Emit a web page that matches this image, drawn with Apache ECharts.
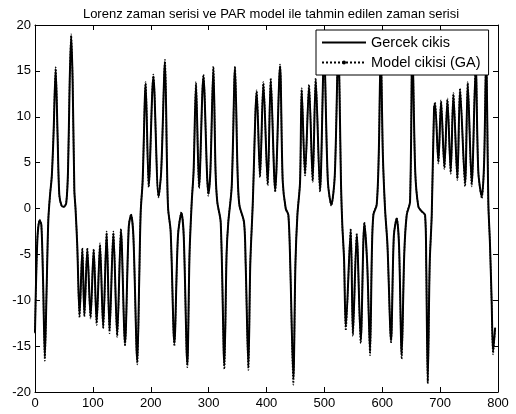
<!DOCTYPE html>
<html>
<head>
<meta charset="utf-8">
<script src="https://cdn.jsdelivr.net/npm/echarts@6/dist/echarts.min.js"></script>
<style>
  html, body { margin: 0; padding: 0; background: #fff; }
  #chart { width: 516px; height: 414px; }
</style>
</head>
<body>
<div id="chart"></div>
<script>
// zaman (ornek indeksi) - ekstremum ve donum noktalari
const times = [
  0, 4, 8, 11, 14, 17, 20, 23, 26, 29, 32, 35.7, 39, 42, 46, 50, 54, 57, 60, 62.5,
  65, 68, 70, 73, 77, 81.8, 85.3, 90.4, 96, 101.4, 106.5, 112.3, 117.8, 123.8, 128.8, 135.4,
  142, 148.5, 155.5, 162, 166, 170, 176.8, 180, 182.6, 186, 191.2, 196.5, 204.5, 213.5,
  218, 224.6, 228, 230, 234.4, 240.8, 247, 253, 257, 263.2, 267, 270.8, 274, 278.2,
  283.5, 291, 299.6, 303, 308.2, 312, 315, 320.9, 327.2, 331, 334, 339.9, 345.6, 350,
  353.1, 361.2, 364, 368.7, 372, 376.2, 383.1, 388.8, 394.6, 402.1, 407.3, 415, 423.4,
  428, 433.2, 437.8, 441, 446.4, 450, 453.4, 458, 460.8, 466.6, 473.5, 479.8, 485,
  492.5, 499.5, 506, 512, 518, 524, 529, 531, 534, 537, 545.5, 549.3, 555.9, 562.8,
  569.1, 574, 578.9, 582, 584.7, 590.4, 594, 597.4, 601, 604.8, 609, 615.2, 620, 625,
  629, 633.6, 638, 642.3, 648, 652, 657, 662.4, 668, 674, 676, 678.6, 682, 685.5,
  689.5, 691.2, 697, 701.6, 707.4, 712.6, 718.3, 722.9, 729.8, 734.4, 743.1, 747.7,
  754.6, 761.5, 766, 772, 776, 779.5, 783.4, 786, 789, 791.5, 795
];

// Gercek cikis
const gercek = [
  -13.5, -3.5, -1.3, -1.8, -8, -16.2, -9, -1.3, 1.5, 3.5, 8, 15.2, 8, 1.5, 0.3, 0.2, 0.6, 4, 14, 18.8,
  14, 2, 0, -4, -11.6, -4.5, -11.6, -4.5, -11.8, -4.5, -12.4, -4, -12.9, -2.7, -13.3, -2.7,
  -13.8, -2.4, -14.7, -2, -0.7, -3, -16.7, -8, -0.4, 3, 13.6, 2.5, 14.4, 1.3,
  4, 16, 5, 0, -2.5, -14.7, -3, -0.5, -3, -17, -5, 0.7, 4, 13.5,
  2.4, 14.4, 1.6, 4, 15.3, 4, 0.7, -1.5, -17.1, -5, -1.5, 2.4, 15.3, 4,
  0.4, -1.5, -6, -17.3, -6, 0.4, 12.7, 3.6, 13.6, 2.7, 14, 2, 15.5,
  3, 0, -0.7, -6, -18.5, -6, -0.7, 2.9, 12.9, 3.8, 13.3, 3.1, 14,
  2, 17, 3, 0.4, 3.6, 17.5, 2, -1.8, -5.5, -12.9, -2.4, -13.6, -2.9, -14.4,
  -1.6, -6, -15.6, -5, -0.7, 0.4, 6, 17.5, 6, 0, -4, -14.4, -3, -1.1,
  -4, -16, -5, -0.7, 0.7, 18, 4, 0.2, -0.3, -0.7, -6, -18.9, -6, -0.7,
  10.9, 11.4, 5.1, 11.6, 4.5, 11.8, 4, 12.4, 3.3, 12.9, 2.7, 13.6,
  2.7, 15.5, 4, 1.3, 5, 16.5, 0.4, -3.6, -10, -15.6, -13
];

// Model cikisi (GA)
const model = [
  -13.6, -3.4, -1.2, -1.8, -8.2, -16.6, -9, -1.2, 1.5, 3.6, 8.2, 15.4, 8, 1.4, 0.3, 0.2, 0.7, 4.1, 14.2, 19,
  14, 1.9, 0, -4.1, -11.9, -4.3, -11.8, -4.3, -12, -4.4, -12.7, -3.8, -13.1, -2.5, -13.6, -2.5,
  -14, -2.2, -15, -1.9, -0.6, -3.1, -17, -8, -0.3, 3.1, 13.8, 2.3, 14.6, 1.2,
  4, 16.2, 5, 0, -2.6, -15, -3, -0.4, -3, -17.3, -5, 0.8, 4.1, 13.8,
  2.2, 14.6, 1.4, 4, 15.5, 4, 0.7, -1.6, -17.5, -5, -1.4, 2.5, 15.5, 4,
  0.4, -1.6, -6.1, -17.6, -6, 0.5, 12.9, 3.4, 13.8, 2.5, 14.2, 1.8, 15.7,
  3, 0, -0.8, -6.2, -19.2, -6, -0.6, 3, 13.1, 3.6, 13.5, 2.9, 14.2,
  1.8, 17.2, 3, 0.3, 3.7, 17.7, 2, -1.9, -5.6, -13.3, -2.2, -13.9, -2.7, -14.7,
  -1.5, -6.1, -16, -5, -0.6, 0.5, 6.1, 17.7, 6, 0, -4.1, -14.7, -3, -1,
  -4.1, -16.4, -5, -0.6, 0.8, 18.2, 4, 0.2, -0.3, -0.8, -6.2, -19.1, -6, -0.6,
  11.1, 11.6, 4.9, 11.8, 4.3, 12, 3.8, 12.6, 3.1, 13.1, 2.4, 13.8,
  2.4, 15.7, 4, 1.1, 5, 16.7, 0.3, -3.7, -10.2, -15.9, -13
];

const xTicks = [0, 100, 200, 300, 400, 500, 600, 700, 800];
const yTicks = [-20, -15, -10, -5, 0, 5, 10, 15, 20];

const font = 'Liberation Sans, Arial, sans-serif';

function pairs(ys) {
  return times.map((t, i) => [t, ys[i]]);
}

const chart = echarts.init(document.getElementById('chart'), null, { renderer: 'canvas' });

const axisCommon = {
  axisLine: { show: true, onZero: false, lineStyle: { color: '#000', width: 1 } },
  axisTick: { show: true, inside: true, length: 5, lineStyle: { color: '#000' } },
  splitLine: { show: false },
};

chart.setOption({
  animation: false,
  backgroundColor: '#fff',
  title: {
    text: 'Lorenz zaman serisi ve PAR model ile tahmin edilen zaman serisi',
    left: 266,
    textAlign: 'center',
    top: 3,
    textStyle: { fontFamily: font, fontSize: 13, fontWeight: 'normal', color: '#000' },
  },
  legend: {
    orient: 'vertical',
    left: 316,
    top: 30,
    itemWidth: 44,
    itemHeight: 5,
    itemGap: 5,
    padding: [5, 8, 5, 5],
    backgroundColor: '#fff',
    borderColor: '#000',
    borderWidth: 1,
    textStyle: { fontFamily: font, fontSize: 14.5, color: '#000' },
    data: [
      { name: 'Gercek cikis', itemStyle: { opacity: 0 } },
      { name: 'Model cikisi (GA)' },
    ],
  },
  grid: { left: 35, right: 18, top: 25, bottom: 22 },
  xAxis: [
    Object.assign({
      type: 'value', min: 0, max: 800, interval: 100, position: 'bottom',
      axisLabel: {
        margin: 5, color: '#000', fontFamily: font, fontSize: 13,
        formatter: v => (xTicks.includes(v) ? String(v) : ''),
      },
    }, axisCommon),
    Object.assign({
      type: 'value', min: 0, max: 800, interval: 100, position: 'top',
      axisLabel: { show: false },
    }, axisCommon),
  ],
  yAxis: [
    Object.assign({
      type: 'value', min: -20, max: 20, interval: 5, position: 'left',
      axisLabel: {
        margin: 4, color: '#000', fontFamily: font, fontSize: 13,
        formatter: v => (yTicks.includes(v) ? String(v) : ''),
      },
    }, axisCommon),
    Object.assign({
      type: 'value', min: -20, max: 20, interval: 5, position: 'right',
      axisLabel: { show: false },
    }, axisCommon),
  ],
  series: [
    {
      name: 'Gercek cikis',
      type: 'line',
      data: pairs(gercek),
      symbol: 'none',
      smooth: 0.3,
      lineStyle: { color: '#000', width: 2 },
      itemStyle: { color: '#000' },
      z: 2,
    },
    {
      name: 'Model cikisi (GA)',
      type: 'line',
      data: pairs(model),
      symbol: 'circle',
      symbolSize: 4,
      showSymbol: false,
      smooth: 0.3,
      lineStyle: { color: '#000', width: 1.5, type: 'dotted' },
      itemStyle: { color: '#000' },
      z: 3,
    },
  ],
});
</script>
</body>
</html>
